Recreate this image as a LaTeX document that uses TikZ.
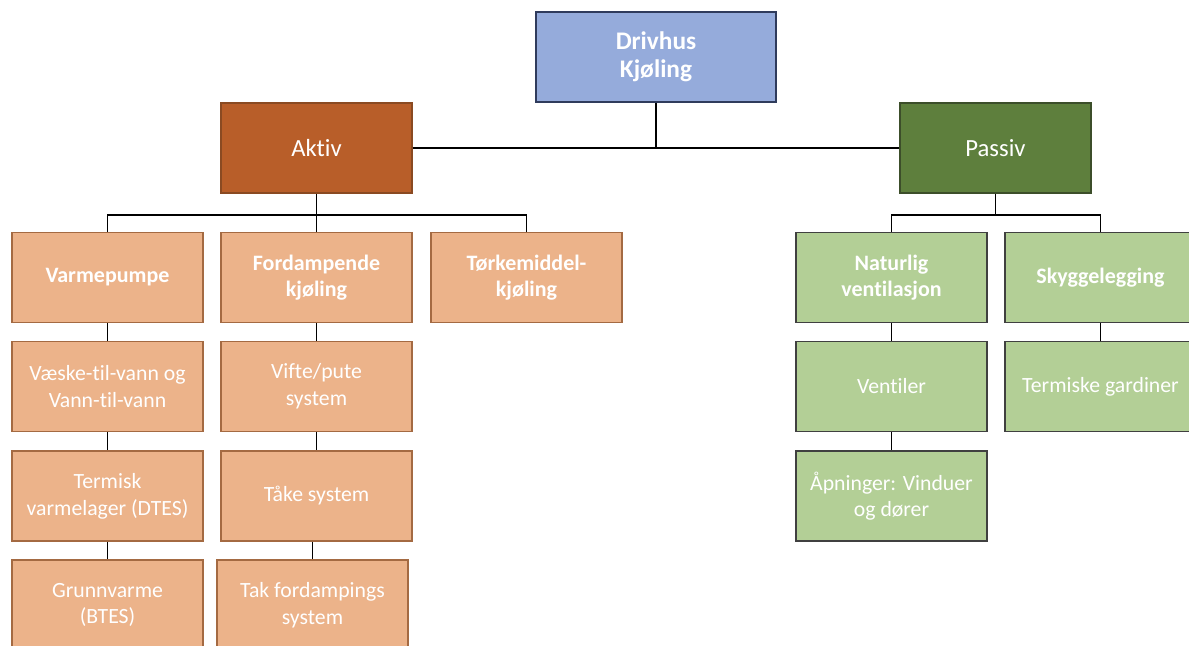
\documentclass[tikz,border=0pt]{standalone}
\usepackage{fontspec}
\setmainfont{Carlito}[Ligatures=NoCommon]
\usetikzlibrary{positioning}

\definecolor{blaa}{HTML}{95ABDB}
\definecolor{blaakant}{HTML}{2F3B5C}
\definecolor{brun}{HTML}{B85E29}
\definecolor{brunkant}{HTML}{8A4A22}
\definecolor{oransje}{HTML}{ECB38A}
\definecolor{oransjekant}{HTML}{A46A42}
\definecolor{moerkgroenn}{HTML}{5E7F3D}
\definecolor{groennkant}{HTML}{3C4E2A}
\definecolor{lysgroenn}{HTML}{B3CF96}
\definecolor{graakant}{HTML}{404040}

\tikzset{
  boks/.style={draw, line width=0.8pt, minimum width=143.25pt, minimum height=67.5pt,
    text=white, align=center, inner sep=2pt},
  topp/.style={boks, fill=blaa, draw=blaakant, minimum width=180pt, font=\fontsize{19}{21}\selectfont\bfseries},
  aktiv/.style={boks, fill=brun, draw=brunkant, font=\fontsize{18.5}{21}\selectfont},
  passiv/.style={boks, fill=moerkgroenn, draw=groennkant, font=\fontsize{18.5}{21}\selectfont},
  oransjeboks/.style={boks, fill=oransje, draw=oransjekant, font=\fontsize{16.3}{20}\selectfont},
  groennboks/.style={boks, fill=lysgroenn, draw=graakant, font=\fontsize{16.3}{20}\selectfont},
  fet/.style={font=\fontsize{16.5}{20}\selectfont\bfseries},
  linje/.style={line width=1.1pt, black}
}

\begin{document}
\begin{tikzpicture}[x=0.75pt, y=-0.75pt]
  \clip (0,0) rectangle (1189,646);

  % Toppnivå
  \node[topp] (drivhus) at (656,57) {Drivhus\\Kjøling};
  \node[aktiv] (aktiv) at (316.5,148) {Aktiv};
  \node[passiv] (passiv) at (995.5,148) {Passiv};

  % Aktiv kjøling
  \node[oransjeboks, fet] (varmepumpe) at (107.5,277.5) {Varmepumpe};
  \node[oransjeboks, fet] (fordampende) at (316.5,277.5) {Fordampende\\kjøling};
  \node[oransjeboks, fet] (torke) at (526.5,277.5) {Tørkemiddel-\\kjøling};
  \node[oransjeboks] (vaeske) at (107.5,386.5) {Væske-til-vann og\\Vann-til-vann};
  \node[oransjeboks] (termisk) at (107.5,496) {Termisk\\varmelager (DTES)};
  \node[oransjeboks] (grunnvarme) at (107.5,605) {Grunnvarme\\(BTES)};
  \node[oransjeboks] (vifte) at (316.5,386.5) {Vifte/pute\\system};
  \node[oransjeboks] (taake) at (316.5,496) {Tåke system};
  \node[oransjeboks] (tak) at (312.5,605) {Tak fordampings\\system};

  % Passiv kjøling
  \node[groennboks, fet] (naturlig) at (891.5,277.5) {Naturlig\\ventilasjon};
  \node[groennboks, fet] (skygge) at (1100.5,277.5) {Skyggelegging};
  \node[groennboks] (ventiler) at (891.5,386.5) {Ventiler};
  \node[groennboks] (aapninger) at (891.5,496) {Åpninger: Vinduer\\og dører};
  \node[groennboks] (gardiner) at (1100.5,386.5) {Termiske gardiner};

  % Linjer fra toppen
  \draw[linje] (drivhus.south) -- (drivhus.south |- aktiv.east);
  \draw[linje] (aktiv.east) -- (passiv.west);

  % Linjer under Aktiv
  \draw[linje] (aktiv.south) -- (fordampende.north);
  \draw[linje] (varmepumpe.north) -- ++(0,-17) -| (torke.north);
  \draw[linje] (varmepumpe.south) -- (vaeske.north);
  \draw[linje] (vaeske.south) -- (termisk.north);
  \draw[linje] (termisk.south) -- (grunnvarme.north);
  \draw[linje] (fordampende.south) -- (vifte.north);
  \draw[linje] (vifte.south) -- (taake.north);
  \draw[linje] (tak.north |- taake.south) -- (tak.north);

  % Linjer under Passiv
  \draw[linje] (passiv.south) -- ++(0,22);
  \draw[linje] (naturlig.north) -- ++(0,-17) -| (skygge.north);
  \draw[linje] (naturlig.south) -- (ventiler.north);
  \draw[linje] (ventiler.south) -- (aapninger.north);
  \draw[linje] (skygge.south) -- (gardiner.north);

\end{tikzpicture}
\end{document}
